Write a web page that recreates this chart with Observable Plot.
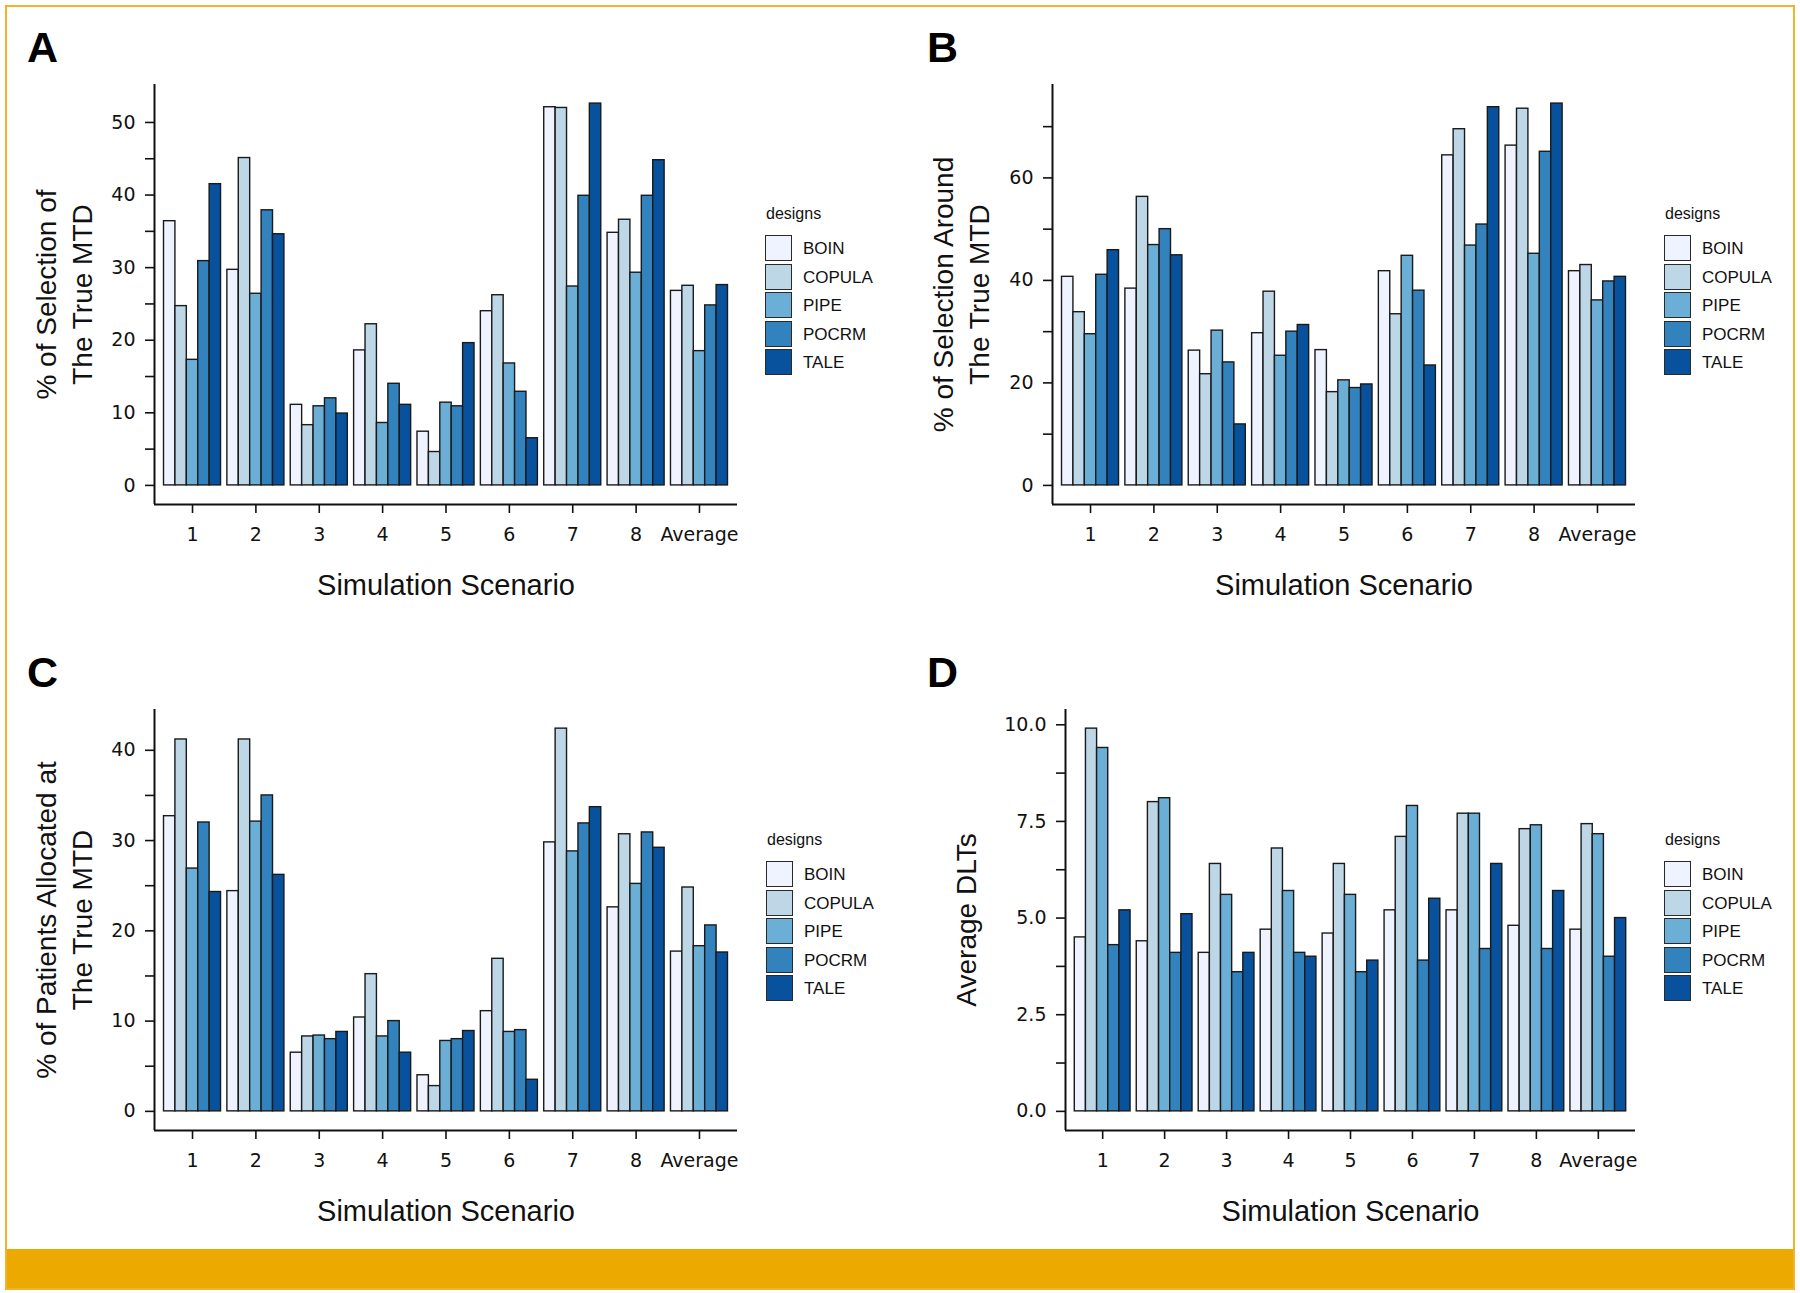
<!DOCTYPE html>
<html>
<head>
<meta charset="utf-8">
<script src="https://cdn.jsdelivr.net/npm/d3@7"></script>
<script src="https://cdn.jsdelivr.net/npm/@observablehq/plot@0.6"></script>
<style>
  html, body { margin: 0; padding: 0; background: #fff; }
  #page { position: relative; width: 1800px; height: 1293px; background: #fff; overflow: hidden;
          font-family: "Liberation Sans", Arial, Helvetica, sans-serif; color: #111; }
  .panel { position: absolute; width: 900px; height: 625px; }
  .panel svg { overflow: visible; }
  .letter { position: absolute; font-weight: bold; font-size: 43px; line-height: 43px; color: #000; }
  .legend { position: absolute; width: 130px; }
  .legend .ttl { position: absolute; left: 1px; top: -29px; font-size: 16px; line-height: 16px; }
  .legend .item { position: absolute; left: 0; height: 27px; }
  .legend .sw { position: absolute; left: 0; top: 0; width: 25px; height: 24px; border: 1.6px solid #2a2a2a; }
  .legend .lb { position: absolute; left: 38px; top: 0; font-size: 17px; line-height: 27px; white-space: nowrap; }
  .band { position: absolute; left: 5px; top: 1249px; width: 1789px; height: 40px; background: #ECA900; }
  .frameline { position: absolute; left: 5px; top: 5px; width: 1790px; height: 1285px;
               border: 2px solid #F1B32B; box-sizing: border-box; pointer-events: none; }
</style>
</head>
<body>
<div id="page">
  <div class="panel" id="pA" style="left:0px;top:0px"></div>
  <div class="panel" id="pB" style="left:900px;top:0px"></div>
  <div class="panel" id="pC" style="left:0px;top:625px"></div>
  <div class="panel" id="pD" style="left:900px;top:625px"></div>
  <div class="letter" style="left:27px;top:26px">A</div>
  <div class="letter" style="left:927px;top:26px">B</div>
  <div class="letter" style="left:27px;top:651px">C</div>
  <div class="letter" style="left:927px;top:651px">D</div>
  <div class="legend" id="lA" style="left:765px;top:235px"></div>
  <div class="legend" id="lB" style="left:1664px;top:235px"></div>
  <div class="legend" id="lC" style="left:766px;top:861px"></div>
  <div class="legend" id="lD" style="left:1664px;top:861px"></div>
  <div class="band"></div>
  <div class="frameline"></div>
</div>
<script>
// ---- categories ----
const scenarios = ["1", "2", "3", "4", "5", "6", "7", "8", "Average"];
const designs = ["BOIN", "COPULA", "PIPE", "POCRM", "TALE"];
const designColors = ["#eff3ff", "#bdd7e7", "#6baed6", "#3182bd", "#08519c"];
const legendTitle = "designs";
const xTitle = "Simulation Scenario";

// ---- Panel A: % of selection of the true MTD ----
const selTrue_BOIN   = [36.4, 29.7, 11.1, 18.6, 7.4, 24.0, 52.1, 34.8, 26.8];
const selTrue_COPULA = [24.7, 45.1, 8.3, 22.2, 4.6, 26.2, 52.0, 36.6, 27.5];
const selTrue_PIPE   = [17.3, 26.4, 10.9, 8.6, 11.4, 16.8, 27.4, 29.3, 18.5];
const selTrue_POCRM  = [30.9, 37.9, 12.0, 14.0, 10.9, 12.9, 39.9, 39.9, 24.8];
const selTrue_TALE   = [41.5, 34.6, 9.9, 11.1, 19.6, 6.5, 52.6, 44.8, 27.6];
const ticksA = [0, 10, 20, 30, 40, 50];
const minorA = [5, 15, 25, 35, 45];

// ---- Panel B: % of selection around the true MTD ----
const selAround_BOIN   = [40.7, 38.4, 26.3, 29.7, 26.4, 41.8, 64.4, 66.3, 41.8];
const selAround_COPULA = [33.8, 56.3, 21.7, 37.8, 18.2, 33.4, 69.5, 73.5, 43.0];
const selAround_PIPE   = [29.5, 46.9, 30.2, 25.3, 20.5, 44.8, 46.8, 45.2, 36.1];
const selAround_POCRM  = [41.1, 50.0, 24.0, 30.0, 19.0, 38.0, 50.9, 65.1, 39.8];
const selAround_TALE   = [45.9, 44.9, 11.9, 31.3, 19.7, 23.4, 73.8, 74.5, 40.7];
const ticksB = [0, 20, 40, 60];
const minorB = [10, 30, 50, 70];

// ---- Panel C: % of patients allocated at the true MTD ----
const alloc_BOIN   = [32.7, 24.4, 6.5, 10.4, 4.0, 11.1, 29.8, 22.6, 17.7];
const alloc_COPULA = [41.2, 41.2, 8.3, 15.2, 2.8, 16.9, 42.4, 30.7, 24.8];
const alloc_PIPE   = [26.9, 32.1, 8.4, 8.3, 7.8, 8.8, 28.8, 25.2, 18.3];
const alloc_POCRM  = [32.0, 35.0, 8.0, 10.0, 8.0, 9.0, 31.9, 30.9, 20.6];
const alloc_TALE   = [24.3, 26.2, 8.8, 6.5, 8.9, 3.5, 33.7, 29.2, 17.6];
const ticksC = [0, 10, 20, 30, 40];
const minorC = [5, 15, 25, 35];

// ---- Panel D: average DLTs ----
const dlt_BOIN   = [4.5, 4.4, 4.1, 4.7, 4.6, 5.2, 5.2, 4.8, 4.7];
const dlt_COPULA = [9.9, 8.0, 6.4, 6.8, 6.4, 7.1, 7.7, 7.3, 7.43];
const dlt_PIPE   = [9.4, 8.1, 5.6, 5.7, 5.6, 7.9, 7.7, 7.4, 7.17];
const dlt_POCRM  = [4.3, 4.1, 3.6, 4.1, 3.6, 3.9, 4.2, 4.2, 4.0];
const dlt_TALE   = [5.2, 5.1, 4.1, 4.0, 3.9, 5.5, 6.4, 5.7, 5.0];
const ticksD = [0, 2.5, 5, 7.5, 10];
const minorD = [1.25, 3.75, 6.25, 8.75];

const tickFont = "'DejaVu Sans', 'Liberation Sans', Arial, sans-serif";
const titleFont = "'Liberation Sans', Arial, sans-serif";

function panel(cfg) {
  const rows = [];
  scenarios.forEach((s, i) => designs.forEach((d, j) => {
    rows.push({scenario: s, si: i, design: d, dj: j, value: cfg.series[j][i]});
  }));
  const max = d3.max(rows, r => r.value);
  const n = scenarios.length, k = designs.length;
  const groupW = 0.9, barW = groupW / k;
  const xDom = [-0.6, n - 1 + 0.6];           // ggplot-like discrete expansion
  const yDom = [-0.05 * max, 1.05 * max];      // ggplot-like continuous expansion
  return Plot.plot({
    width: 900, height: 625,
    marginLeft: cfg.ml, marginRight: cfg.mr, marginTop: 84, marginBottom: cfg.mb,
    style: {background: "transparent", color: "#111", fontFamily: tickFont, overflow: "visible"},
    x: {domain: xDom},
    y: {domain: yDom},
    color: {domain: designs, range: designColors},
    marks: [
      Plot.rect(rows, {
        x1: d => d.si - groupW / 2 + d.dj * barW,
        x2: d => d.si - groupW / 2 + (d.dj + 1) * barW,
        y1: 0, y2: "value",
        fill: "design", stroke: "#1a1a1a", strokeWidth: 1.4
      }),
      Plot.ruleX([xDom[0]], {stroke: "#111", strokeWidth: 2}),
      Plot.ruleY([yDom[0]], {stroke: "#111", strokeWidth: 2}),
      Plot.axisY({ticks: cfg.minor, tickSize: 9, tickFormat: () => "", label: null, strokeWidth: 1.6, color: "#111"}),
      Plot.axisY({ticks: cfg.ticks, tickSize: 9, tickPadding: 10, tickFormat: cfg.fmt, label: null,
                  fontSize: 19, strokeWidth: 1.6, color: "#111"}),
      Plot.axisX({ticks: d3.range(n), tickFormat: i => scenarios[i], tickSize: 9, tickPadding: 14,
                  label: null, fontSize: 19, strokeWidth: 1.6, color: "#111"}),
      Plot.text([xTitle], {frameAnchor: "bottom", dy: 90, fontSize: 29, fill: "#111", fontFamily: titleFont}),
      Plot.text([cfg.ytitle], {frameAnchor: "left", dx: cfg.ydx, rotate: -90, fontSize: 28,
                               textAnchor: "middle", lineAnchor: "middle",
                               lineHeight: 1.3, fill: "#111", fontFamily: titleFont})
    ]
  });
}

function legend(id) {
  const el = document.getElementById(id);
  const t = document.createElement("div");
  t.className = "ttl"; t.textContent = legendTitle; el.appendChild(t);
  designs.forEach((d, j) => {
    const it = document.createElement("div");
    it.className = "item"; it.style.top = (j * 28.6) + "px";
    const sw = document.createElement("div");
    sw.className = "sw"; sw.style.background = designColors[j];
    const lb = document.createElement("div");
    lb.className = "lb"; lb.textContent = d;
    it.appendChild(sw); it.appendChild(lb); el.appendChild(it);
  });
}

const fmtInt = d3.format("d");
const fmt1 = d3.format(".1f");

document.getElementById("pA").appendChild(panel({
  series: [selTrue_BOIN, selTrue_COPULA, selTrue_PIPE, selTrue_POCRM, selTrue_TALE],
  ticks: ticksA, minor: minorA, fmt: fmtInt, ml: 154, mr: 163, mb: 121,
  ytitle: "% of Selection of\nThe True MTD", ydx: -92
}));
document.getElementById("pB").appendChild(panel({
  series: [selAround_BOIN, selAround_COPULA, selAround_PIPE, selAround_POCRM, selAround_TALE],
  ticks: ticksB, minor: minorB, fmt: fmtInt, ml: 152, mr: 165, mb: 121,
  ytitle: "% of Selection Around\nThe True MTD", ydx: -93
}));
document.getElementById("pC").appendChild(panel({
  series: [alloc_BOIN, alloc_COPULA, alloc_PIPE, alloc_POCRM, alloc_TALE],
  ticks: ticksC, minor: minorC, fmt: fmtInt, ml: 154, mr: 163, mb: 120,
  ytitle: "% of Patients Allocated at\nThe True MTD", ydx: -92
}));
document.getElementById("pD").appendChild(panel({
  series: [dlt_BOIN, dlt_COPULA, dlt_PIPE, dlt_POCRM, dlt_TALE],
  ticks: ticksD, minor: minorD, fmt: fmt1, ml: 165, mr: 165, mb: 120,
  ytitle: "Average DLTs", ydx: -101
}));
["lA", "lB", "lC", "lD"].forEach(legend);
</script>
</body>
</html>
